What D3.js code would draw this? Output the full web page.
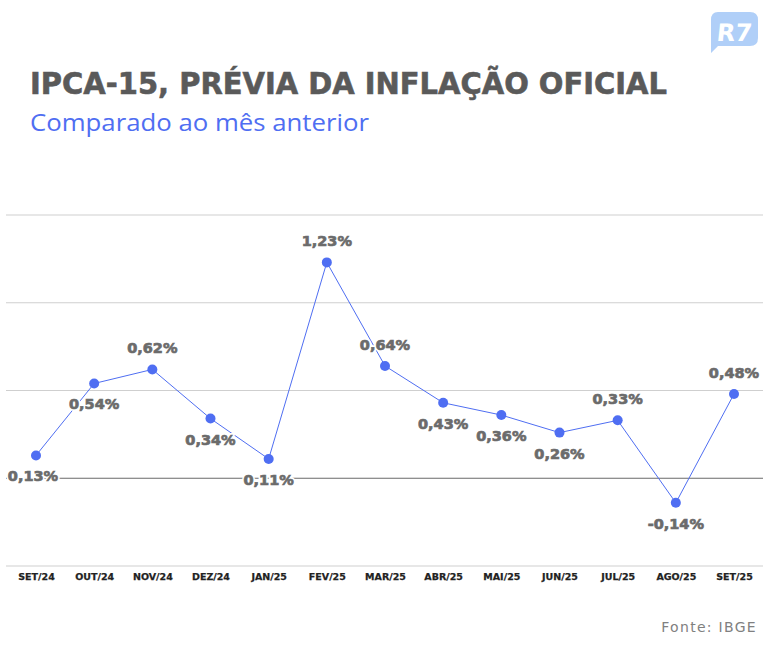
<!DOCTYPE html>
<html><head><meta charset="utf-8">
<script src="https://cdn.jsdelivr.net/npm/d3@7"></script>
<style>body{margin:0;background:#fff}svg{display:block}</style>
</head><body><svg id="c" width="770" height="650"></svg>
<script>
const categories = ["SET/24","OUT/24","NOV/24","DEZ/24","JAN/25","FEV/25","MAR/25","ABR/25","MAI/25","JUN/25","JUL/25","AGO/25","SET/25"];
const values = [0.13,0.54,0.62,0.34,0.11,1.23,0.64,0.43,0.36,0.26,0.33,-0.14,0.48];
const labelSide = ["below","below","above","below","below","above","above","below","below","below","above","below","above"];
const gridTicks = [-0.5,0,0.5,1,1.5];
const title = "IPCA-15, PRÉVIA DA INFLAÇÃO OFICIAL";
const subtitle = "Comparado ao mês anterior";
const source = "Fonte: IBGE";
const fmt = v => d3.format(".2f")(v).replace(".", ",").replace("−","-") + "%";

const svg = d3.select("#c");
const x = d3.scalePoint().domain(categories).range([36, 734]);
const y = d3.scaleLinear().domain([-0.5, 1.5]).range([566, 215]);

svg.append("text").attr("x",30).attr("y",94).text(title)
  .attr("font-family","'DejaVu Sans', sans-serif").attr("font-weight",700).attr("font-size",30)
  .attr("fill","#5a5a5a").attr("stroke","#5a5a5a").attr("stroke-width",0.6)
  .attr("textLength",637).attr("lengthAdjust","spacingAndGlyphs");
svg.append("text").attr("x",30).attr("y",131).text(subtitle)
  .attr("font-family","'Open Sans', sans-serif").attr("font-size",24)
  .attr("fill","#4f6ef2").attr("textLength",339).attr("lengthAdjust","spacingAndGlyphs");

// logo
const logo = svg.append("g");
logo.append("path").attr("d","M718,12 H750 Q758,12 758,20 V38 Q758,46 750,46 H718 L711,53 V20 Q711,12 718,12 Z").attr("fill","#b0cff8");
logo.append("text").attr("x",734).attr("y",41).attr("text-anchor","middle").text("R7")
  .attr("font-family","'DejaVu Sans', sans-serif").attr("font-weight",700).attr("font-size",24)
  .attr("fill","#fff").attr("transform","skewX(-6) translate(4,0)");

// grid
svg.append("g").selectAll("line").data(gridTicks).join("line")
  .attr("x1",6).attr("x2",763).attr("y1",d=>y(d)).attr("y2",d=>y(d))
  .attr("stroke",d=>d===0?"#6a6a6a":"#cfcfcf").attr("stroke-width",1.2);

// x axis labels
const xAxis = d3.axisBottom(x).tickSize(0).tickPadding(0);
const gx = svg.append("g").attr("transform",`translate(0,${y(-0.5)})`).call(xAxis);
gx.select(".domain").remove();
gx.selectAll("text").attr("dy",null).attr("y",14)
  .attr("font-family","'DejaVu Sans', sans-serif").attr("font-weight",700).attr("font-size",9.5)
  .attr("fill","#222").attr("stroke","#222").attr("stroke-width",0.25);

// line
const line = d3.line().x((d,i)=>x(categories[i])).y(d=>y(d));
svg.append("path").datum(values).attr("d",line).attr("fill","none").attr("stroke","#4f6ef2").attr("stroke-width",1);

// labels
const lx = (d,i)=>x(categories[i]) + (i===0?-3:0);
const ly = (d,i)=>y(d) + (labelSide[i]==="above"? -16 : 26);
const lbl = svg.append("g");
lbl.selectAll("text.halo").data(values).join("text").attr("class","halo")
  .attr("x",lx).attr("y",ly).attr("text-anchor","middle").text(d=>fmt(d))
  .attr("font-family","'DejaVu Sans', sans-serif").attr("font-weight",700).attr("font-size",14.5)
  .attr("fill","#fff").attr("stroke","#fff").attr("stroke-width",4);
lbl.selectAll("text.val").data(values).join("text").attr("class","val")
  .attr("x",lx).attr("y",ly).attr("text-anchor","middle").text(d=>fmt(d))
  .attr("font-family","'DejaVu Sans', sans-serif").attr("font-weight",700).attr("font-size",14.5)
  .attr("fill","#6b6b6b").attr("stroke","#6b6b6b").attr("stroke-width",0.7);

// dots
svg.append("g").selectAll("circle").data(values).join("circle")
  .attr("cx",(d,i)=>x(categories[i])).attr("cy",d=>y(d)).attr("r",5).attr("fill","#4f6ef2");

svg.append("text").attr("x",757).attr("y",632).attr("text-anchor","end").text(source)
  .attr("font-family","'DejaVu Sans', sans-serif").attr("font-size",14).attr("letter-spacing",1.3)
  .attr("fill","#808080");
</script></body></html>
